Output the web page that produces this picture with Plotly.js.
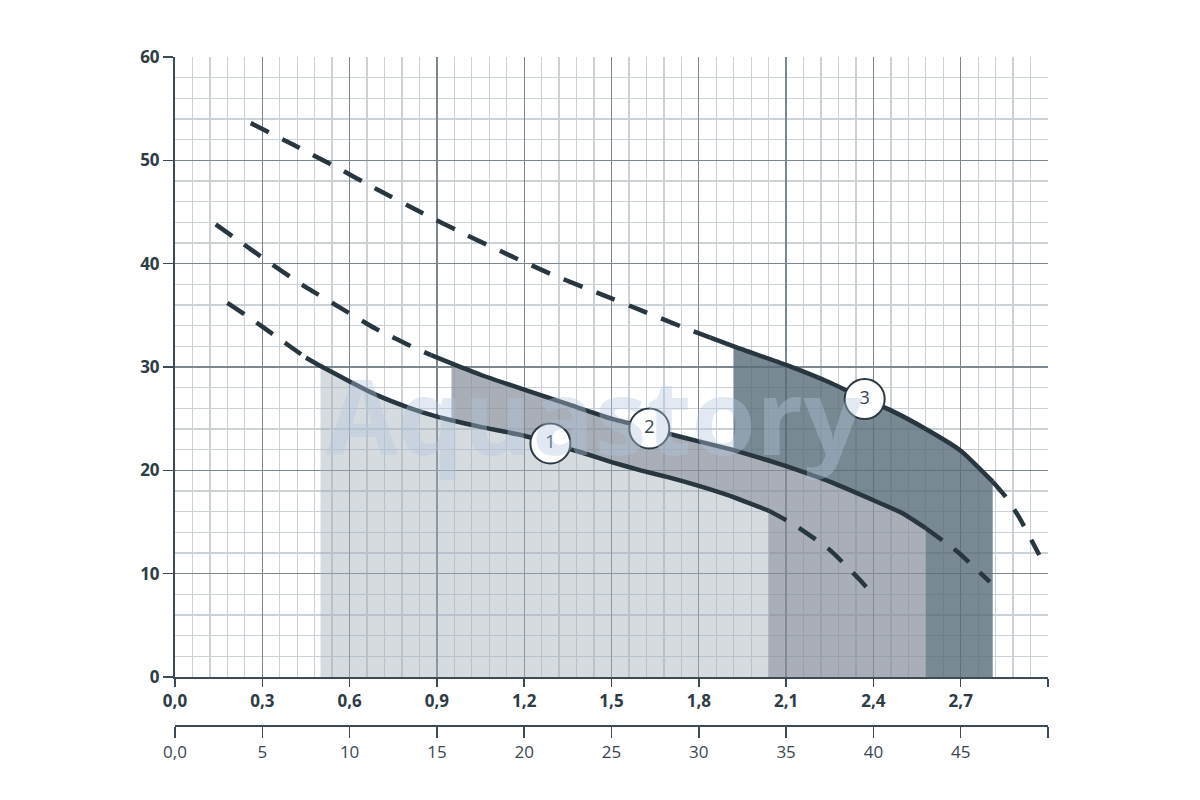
<!DOCTYPE html>
<html>
<head>
<meta charset="utf-8">
<script src="https://cdn.plot.ly/plotly-3.0.1.min.js"></script>
<style>html,body{margin:0;padding:0;background:#fff;}#chart{width:1200px;height:800px;}</style>
</head>
<body>
<div id="chart"></div>
<script>
// ---- Data ----
// Flow, m3/h (top axis) and l/min (bottom axis)
const qTicks = [0, 0.3, 0.6, 0.9, 1.2, 1.5, 1.8, 2.1, 2.4, 2.7, 3.0];
const qLabels = ['0,0', '0,3', '0,6', '0,9', '1,2', '1,5', '1,8', '2,1', '2,4', '2,7', ''];
const lminTicks = [0, 5, 10, 15, 20, 25, 30, 35, 40, 45, 50];
const lminLabels = ['0,0', '5', '10', '15', '20', '25', '30', '35', '40', '45', ''];
const hTicks = [0, 10, 20, 30, 40, 50, 60];

// Curve 1
const c1Q = [0.18, 0.25, 0.30, 0.36, 0.42, 0.45, 0.50, 0.60, 0.70, 0.80, 0.90, 0.95, 1.05, 1.20, 1.29, 1.40, 1.50, 1.60, 1.70, 1.80, 1.90, 2.04, 2.13, 2.25, 2.35, 2.40];
const c1H = [36.2, 34.9, 33.9, 32.7, 31.5, 30.9, 30.1, 28.6, 27.2, 26.1, 25.2, 24.85, 24.2, 23.35, 22.6, 21.7, 20.8, 20.0, 19.3, 18.5, 17.6, 16.1, 14.7, 12.3, 9.5, 7.9];
// Curve 2
const c2Q = [0.14, 0.20, 0.32, 0.44, 0.57, 0.69, 0.82, 0.88, 0.95, 1.05, 1.20, 1.35, 1.50, 1.63, 1.73, 1.90, 1.92, 2.04, 2.10, 2.25, 2.40, 2.50, 2.58, 2.69, 2.80];
const c2H = [43.8, 42.6, 40.2, 37.9, 35.7, 33.7, 31.9, 31.15, 30.35, 29.25, 27.8, 26.4, 25.0, 24.05, 23.3, 22.1, 21.95, 20.95, 20.4, 18.9, 17.1, 15.85, 14.4, 12.1, 9.2];
// Curve 3
const c3Q = [0.26, 0.40, 0.55, 0.70, 0.85, 1.00, 1.15, 1.30, 1.45, 1.60, 1.75, 1.84, 1.92, 2.10, 2.25, 2.37, 2.46, 2.58, 2.70, 2.81, 2.85, 2.90, 2.97];
const c3H = [53.6, 51.6, 49.4, 47.1, 44.9, 42.8, 40.8, 38.9, 37.2, 35.5, 33.8, 32.85, 32.0, 30.2, 28.5, 26.9, 25.8, 24.0, 21.9, 18.9, 17.6, 15.5, 11.8];

// Solid (working) ranges and shaded ranges of each curve, m3/h
const solid1 = [0.45, 2.04], solid2 = [0.88, 2.58], solid3 = [1.84, 2.81];
const shade1 = [0.50, 2.04], shade2 = [0.95, 2.58], shade3 = [1.92, 2.81];

// Circle labels on the curves
const labelQ = [1.29, 1.63, 2.37];
const labelH = [22.6, 24.05, 26.9];
const labelText = ['1', '2', '3'];

// ---- Helpers ----
function seg(Q, H, a, b) {
  const x = [], y = [];
  for (let i = 0; i < Q.length; i++) {
    if (Q[i] >= a - 1e-9 && Q[i] <= b + 1e-9) { x.push(Q[i]); y.push(H[i]); }
  }
  return {x, y};
}
const LINE = '#27363f';
const DASH = '20px,15px';

function curveTraces(Q, H, solid) {
  const L = seg(Q, H, -1, solid[0]);
  const M = seg(Q, H, solid[0], solid[1]);
  const R = seg(Q, H, solid[1], 99);
  const base = {type: 'scatter', mode: 'lines', hoverinfo: 'skip', showlegend: false};
  return [
    Object.assign({}, base, {x: L.x, y: L.y, line: {color: LINE, width: 4.5, dash: DASH, shape: 'spline', smoothing: 0.5}}),
    Object.assign({}, base, {x: M.x, y: M.y, line: {color: LINE, width: 4.5, shape: 'spline', smoothing: 0.5}}),
    Object.assign({}, base, {x: R.x, y: R.y, line: {color: LINE, width: 4.5, dash: DASH, shape: 'spline', smoothing: 0.5}})
  ];
}

// Non-overlapping shaded regions (semi-transparent so the grid shows through)
const A = seg(c1Q, c1H, shade1[0], shade1[1]);
const regA = {x: A.x.concat([shade1[1], shade1[0]]), y: A.y.concat([0, 0])};

const B2 = seg(c2Q, c2H, shade2[0], shade2[1]);
const B1 = seg(c1Q, c1H, shade2[0], shade1[1]);
const regB = {
  x: B2.x.concat([shade2[1], shade1[1]]).concat(B1.x.slice().reverse()),
  y: B2.y.concat([0, 0]).concat(B1.y.slice().reverse())
};

const C3 = seg(c3Q, c3H, shade3[0], shade3[1]);
const C2 = seg(c2Q, c2H, shade3[0], shade2[1]);
const regC = {
  x: C3.x.concat([shade3[1], shade2[1]]).concat(C2.x.slice().reverse()),
  y: C3.y.concat([0, 0]).concat(C2.y.slice().reverse())
};

function region(r, color) {
  return {type: 'scatter', mode: 'none', x: r.x, y: r.y, fill: 'toself', fillcolor: color,
          hoverinfo: 'skip', showlegend: false};
}

const traces = [
  region(regC, 'rgba(88,108,120,0.80)'),
  region(regB, 'rgba(132,140,152,0.70)'),
  region(regA, 'rgba(164,175,186,0.45)'),
  ...curveTraces(c1Q, c1H, solid1),
  ...curveTraces(c2Q, c2H, solid2),
  ...curveTraces(c3Q, c3H, solid3),
  {type: 'scatter', mode: 'markers+text', x: labelQ, y: labelH, text: labelText,
   textposition: 'middle center', cliponaxis: false,
   textfont: {family: 'Open Sans, sans-serif', size: 18, color: '#34434c'},
   marker: {size: 40, color: '#ffffff', line: {color: '#2b3a44', width: 2}},
   hoverinfo: 'skip', showlegend: false},
  // carrier for the l/min axis
  {type: 'scatter', mode: 'lines', x: lminTicks, y: lminTicks.map(() => null),
   xaxis: 'x2', yaxis: 'y', hoverinfo: 'skip', showlegend: false}
];

const MAJOR = '#7b8890', MINOR = '#cad2d8', AX = '#3d4b54';
const layout = {
  width: 1200, height: 800,
  paper_bgcolor: '#ffffff', plot_bgcolor: '#ffffff',
  margin: {l: 175, r: 152, t: 57, b: 74, pad: 0},
  showlegend: false,
  xaxis: {
    range: [0, 3], tickmode: 'array', tickvals: qTicks, ticktext: qLabels,
    anchor: 'y', side: 'bottom',
    showgrid: true, gridcolor: MAJOR, gridwidth: 1.3, zeroline: false,
    showline: true, linecolor: AX, linewidth: 2,
    ticks: 'outside', ticklen: 8, tickwidth: 1.5, tickcolor: AX,
    tickfont: {family: 'Open Sans, sans-serif', size: 17, color: '#2d3c45', weight: 'bold'},
    minor: {tickmode: 'linear', tick0: 0, dtick: 0.06, showgrid: true, gridcolor: MINOR, gridwidth: 1.3, ticks: ''},
    fixedrange: true
  },
  xaxis2: {
    range: [0, 50], overlaying: 'x', anchor: 'free', position: 0, side: 'bottom',
    tickmode: 'array', tickvals: lminTicks, ticktext: lminLabels,
    showgrid: false, zeroline: false,
    showline: true, linecolor: AX, linewidth: 2,
    ticks: 'outside', ticklen: 11, tickwidth: 1.5, tickcolor: AX,
    tickfont: {family: 'Open Sans, sans-serif', size: 17, color: '#3a4750'},
    fixedrange: true
  },
  yaxis: {
    range: [0, 60], domain: [49 / 669, 1],
    tickmode: 'array', tickvals: hTicks,
    showgrid: true, gridcolor: MAJOR, gridwidth: 1.3, zeroline: false,
    showline: true, linecolor: AX, linewidth: 2,
    ticks: 'outside', ticklen: 10, tickwidth: 1.5, tickcolor: AX,
    tickfont: {family: 'Open Sans, sans-serif', size: 17, color: '#2d3c45', weight: 'bold'},
    minor: {tickmode: 'linear', tick0: 0, dtick: 2, showgrid: true, gridcolor: MINOR, gridwidth: 1.3, ticks: ''},
    fixedrange: true
  },
  annotations: [{
    text: 'Aquastory', x: 1.44, y: 25.4, xref: 'x', yref: 'y', showarrow: false,
    font: {family: 'Open Sans, sans-serif', size: 104, color: 'rgba(180,198,222,0.38)', weight: 'bold'}
  }]
};

Plotly.newPlot('chart', traces, layout, {staticPlot: true, displayModeBar: false});
</script>
</body>
</html>
